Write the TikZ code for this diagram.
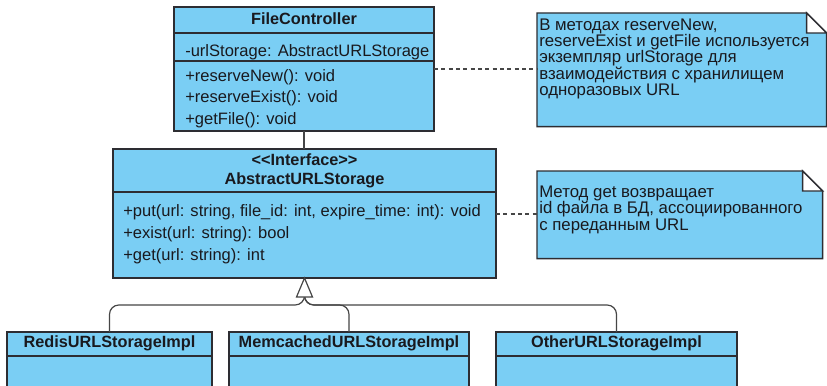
\documentclass[tikz,border=0pt]{standalone}
\usepackage{fontspec}
\setmainfont{Liberation Sans}
\definecolor{boxc}{RGB}{122,206,244}
\definecolor{bordc}{RGB}{45,45,50}
\definecolor{txtc}{RGB}{25,25,30}
\definecolor{linec}{RGB}{70,70,70}
\begin{document}
\begin{tikzpicture}[x=0.75pt,y=-0.75pt,
  umlbox/.style={draw=bordc, fill=boxc, line width=1.1pt, inner sep=0pt, outer sep=0pt, anchor=north west},
  sepline/.style={draw=bordc, line width=1.1pt},
  txt/.style={anchor=base west, inner sep=0pt, text=txtc, font=\fontsize{12.4}{14}\selectfont},
  ttl/.style={anchor=base, inner sep=0pt, text=txtc, font=\bfseries\fontsize{12.2}{14}\selectfont},
  notetxt/.style={anchor=north west, inner sep=0pt, text=txtc, align=left, font=\fontsize{12.6}{11.9}\selectfont},
  noteshape/.style={draw=bordc, fill=boxc, line width=1.1pt},
  conn/.style={draw=linec, line width=0.9pt},
  dashconn/.style={draw=linec, line width=0.9pt, dash pattern=on 3pt off 2.5pt}
]
\clip (0,0) rectangle (827,385);
\fill[white] (0,0) rectangle (827,385);

% FileController
\node[umlbox, minimum width=195pt, minimum height=93pt] (fc) at (174,7) {};
\draw[sepline] (174,33) -- (434,33);
\draw[sepline] (174,61) -- (434,61);
\node[ttl] (fct) at (304,25) {FileController};
\node[txt] (fca) at (185,57) {-urlStorage: AbstractURLStorage};
\node[txt] (fcm1) at (185,81.5) {+reserveNew(): void};
\node[txt] (fcm2) at (185,103) {+reserveExist(): void};
\node[txt] (fcm3) at (185,124.5) {+getFile(): void};

% Interface
\node[umlbox, minimum width=287.25pt, minimum height=96.75pt] (intf) at (113,149) {};
\draw[sepline] (113,192) -- (496,192);
\node[ttl] (it1) at (304.5,165) {<{}<Interface>{}>};
\node[ttl] (it2) at (304.5,184) {AbstractURLStorage};
\node[txt] (im1) at (123,216) {+put(url: string, file\_id: int, expire\_time: int): void};
\node[txt] (im2) at (123,238) {+exist(url: string): bool};
\node[txt] (im3) at (123,260.5) {+get(url: string): int};

% Implementations
\node[umlbox, minimum width=153.75pt, minimum height=52.5pt] (redis) at (7,332) {};
\node[umlbox, minimum width=180pt, minimum height=52.5pt] (mem) at (229,332) {};
\node[umlbox, minimum width=180.75pt, minimum height=52.5pt] (other) at (496,332) {};
\draw[sepline] (7,356) -- (212,356);
\draw[sepline] (229,356) -- (469,356);
\draw[sepline] (496,356) -- (737,356);
\node[ttl] (rt) at (109.5,347) {RedisURLStorageImpl};
\node[ttl] (mt) at (349,347) {MemcachedURLStorageImpl};
\node[ttl] (ot) at (616.5,347) {OtherURLStorageImpl};

% Notes
\node[anchor=north west, minimum width=216.75pt, minimum height=84.75pt, inner sep=0pt] (n1) at (537,13) {};
\draw[noteshape] (n1.north west) -- ([xshift=-15pt]n1.north east) -- ([yshift=-15pt]n1.north east) -- (n1.south east) -- (n1.south west) -- cycle;
\draw[draw=bordc, fill=white, line width=1.1pt] ([xshift=-15pt]n1.north east) -- ([xshift=-15pt,yshift=-15pt]n1.north east) -- ([yshift=-15pt]n1.north east) -- cycle;
\node[notetxt] (n1t) at (539,18.5) {В методах reserveNew,\\reserveExist и getFile используется\\экземпляр urlStorage для\\взаимодействия с хранилищем\\одноразовых URL};

\node[anchor=north west, minimum width=213.75pt, minimum height=65.25pt, inner sep=0pt] (n2) at (537,171) {};
\draw[noteshape] (n2.north west) -- ([xshift=-15pt]n2.north east) -- ([yshift=-15pt]n2.north east) -- (n2.south east) -- (n2.south west) -- cycle;
\draw[draw=bordc, fill=white, line width=1.1pt] ([xshift=-15pt]n2.north east) -- ([xshift=-15pt,yshift=-15pt]n2.north east) -- ([yshift=-15pt]n2.north east) -- cycle;
\node[notetxt, font=\fontsize{12.6}{12.4}\selectfont] (n2t) at (539,185.5) {Метод get возвращает\\id файла в БД, ассоциированного\\с переданным URL};

% Connectors
\draw[dashconn] (fc.east |- 0,69) -- (n1.west |- 0,69);
\draw[dashconn] (intf.east |- 0,214) -- (n2.west |- 0,214);
\draw[conn] (fc.south) -- (fc.south |- intf.north);

\coordinate (j) at (304.5,305);
\coordinate (tb) at (304.5,297);
\draw[conn, rounded corners=7pt] (redis.north) |- (j) -- (tb);
\draw[conn, rounded corners=7pt] (mem.north) |- (j) -- (tb);
\draw[conn, rounded corners=7pt] (other.north) |- (j) -- (tb);
\draw[conn, fill=white, line join=miter] (intf.south) -- (296.5,297) -- (312.5,297) -- cycle;
\end{tikzpicture}
\end{document}
